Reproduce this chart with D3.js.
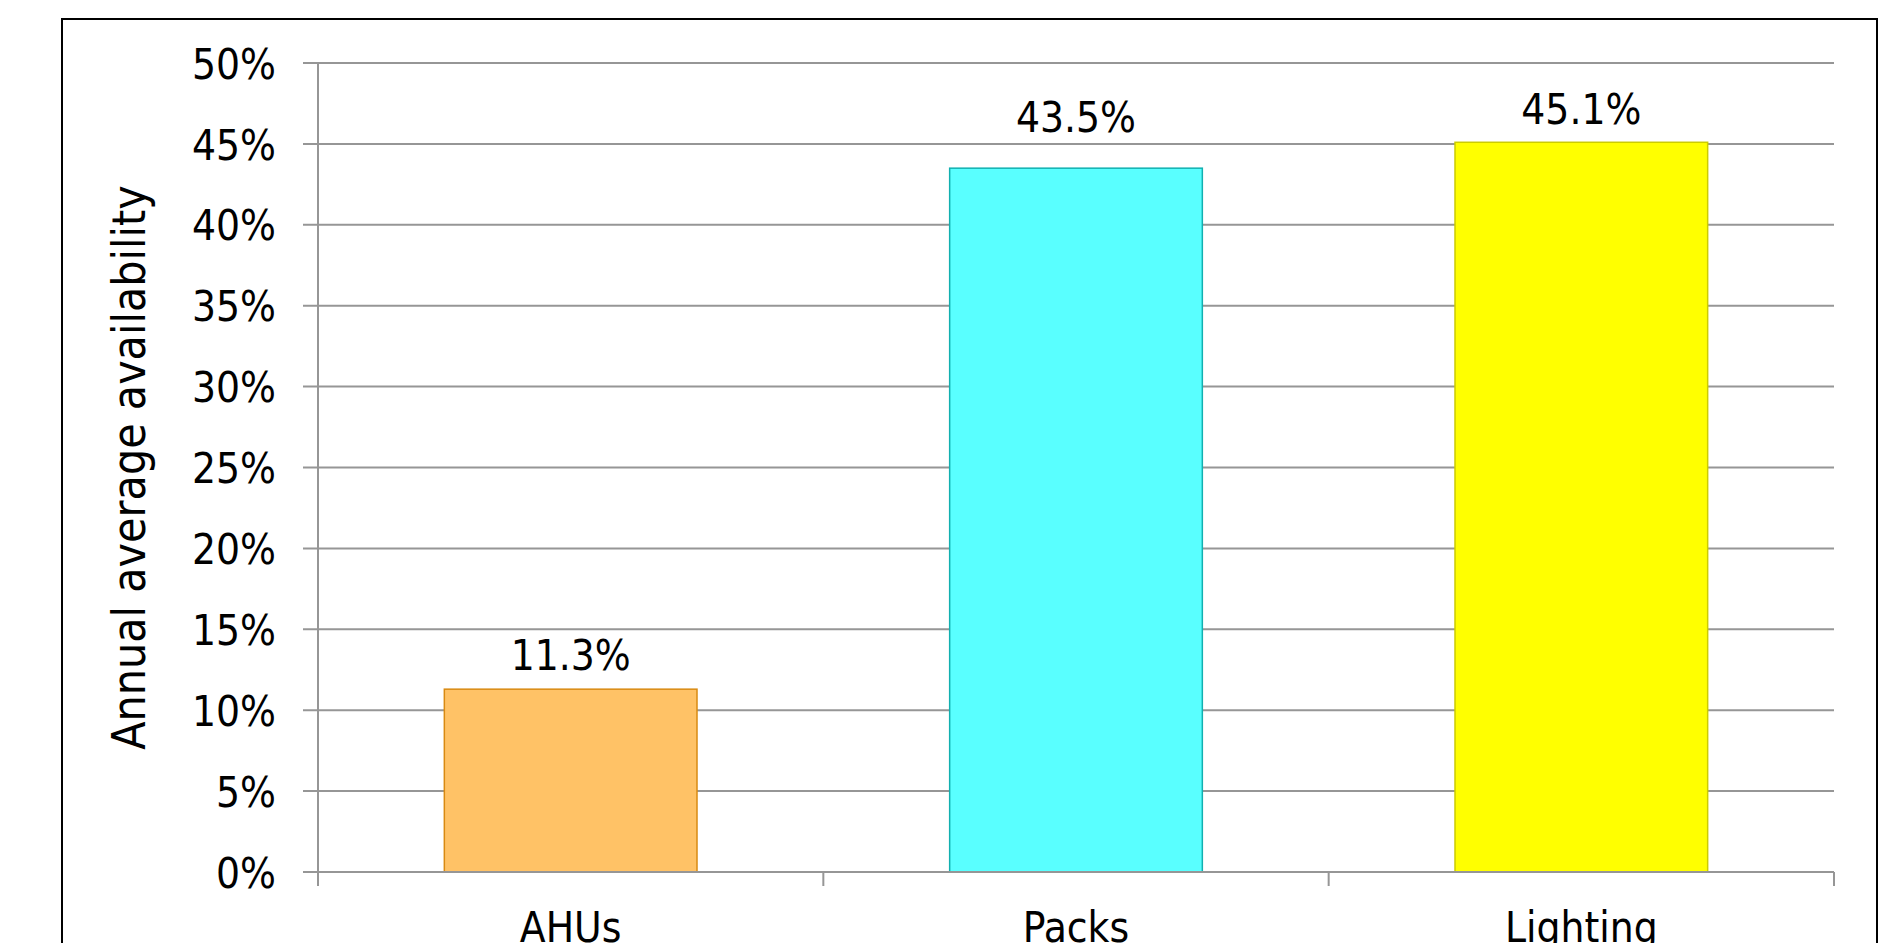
<!DOCTYPE html>
<html>
<head>
<meta charset="utf-8">
<script src="https://cdn.jsdelivr.net/npm/d3@7"></script>
<style>
  html, body { margin: 0; padding: 0; background: #fff; overflow: hidden; }
  svg text { font-family: "DejaVu Sans Condensed", "DejaVu Sans", sans-serif; font-stretch: condensed; fill: #000; }
</style>
</head>
<body>
<div id="chart"></div>
<script>
  var categories = ['AHUs', 'Packs', 'Lighting'];
  var values = [0.113, 0.435, 0.451];
  var valueLabels = ['11.3%', '43.5%', '45.1%'];
  var yTicks = [0, 0.05, 0.10, 0.15, 0.20, 0.25, 0.30, 0.35, 0.40, 0.45, 0.50];
  var fills = ['#ffc266', '#59ffff', '#ffff00'];
  var strokes = ['#d98a12', '#12b0b0', '#cccc00'];
  var yTitle = 'Annual average availability';

  var w = 1898, h = 943;
  var plotLeft = 318, plotRight = 1834, plotTop = 63, plotBottom = 872;

  var svg = d3.select('#chart').append('svg')
    .attr('width', w).attr('height', h);

  // outer frame (runs off the bottom edge)
  svg.append('rect')
    .attr('x', 62).attr('y', 19)
    .attr('width', 1877 - 62).attr('height', 1000)
    .attr('fill', 'none').attr('stroke', '#000').attr('stroke-width', 2);

  var x = d3.scaleBand().domain(categories)
    .range([plotLeft, plotRight]).paddingInner(0.5).paddingOuter(0.25);
  var y = d3.scaleLinear().domain([0, 0.5]).range([plotBottom, plotTop]);

  // gridlines with short outer tick
  svg.append('g').selectAll('line').data(yTicks).enter().append('line')
    .attr('x1', plotLeft - 15).attr('x2', plotRight)
    .attr('y1', function(d){ return y(d); }).attr('y2', function(d){ return y(d); })
    .attr('stroke', '#969696').attr('stroke-width', 2);

  // y axis labels
  var yAxis = d3.axisLeft(y).tickValues(yTicks)
    .tickFormat(d3.format('.0%')).tickSize(0).tickPadding(42);
  var ya = svg.append('g').attr('transform', 'translate(' + plotLeft + ',0)').call(yAxis);
  ya.select('.domain').remove();
  ya.selectAll('text')
    .attr('font-size', 42).attr('font-family', null).attr('fill', '#000').attr('dy', '0.36em');

  // axis lines
  svg.append('line')
    .attr('x1', plotLeft).attr('x2', plotLeft).attr('y1', plotTop).attr('y2', plotBottom + 14)
    .attr('stroke', '#969696').attr('stroke-width', 2);

  var step = x.step();
  var xTicks = d3.range(categories.length + 1).map(function(i){ return plotLeft + i * step; });
  svg.append('g').selectAll('line').data(xTicks).enter().append('line')
    .attr('x1', function(d){ return d; }).attr('x2', function(d){ return d; })
    .attr('y1', plotBottom).attr('y2', plotBottom + 14)
    .attr('stroke', '#969696').attr('stroke-width', 2);

  // bars
  svg.append('g').selectAll('rect').data(values).enter().append('rect')
    .attr('x', function(d, i){ return x(categories[i]); })
    .attr('y', function(d){ return y(d); })
    .attr('width', x.bandwidth())
    .attr('height', function(d){ return plotBottom - y(d); })
    .attr('fill', function(d, i){ return fills[i]; })
    .attr('stroke', function(d, i){ return strokes[i]; })
    .attr('stroke-width', 1.5);

  // baseline over the bars
  svg.append('line')
    .attr('x1', plotLeft - 15).attr('x2', plotRight).attr('y1', plotBottom).attr('y2', plotBottom)
    .attr('stroke', '#969696').attr('stroke-width', 2);

  // value labels (Packs label was nudged up above the 45% gridline)
  var lift = [19, 36, 18];
  svg.append('g').selectAll('text').data(values).enter().append('text')
    .attr('x', function(d, i){ return x(categories[i]) + x.bandwidth() / 2; })
    .attr('y', function(d, i){ return y(d) - lift[i]; })
    .attr('text-anchor', 'middle').attr('font-size', 42)
    .text(function(d, i){ return valueLabels[i]; });

  // category labels (cut by the bottom edge, as in the original)
  svg.append('g').selectAll('text').data(categories).enter().append('text')
    .attr('x', function(d){ return x(d) + x.bandwidth() / 2; })
    .attr('y', 942)
    .attr('text-anchor', 'middle').attr('font-size', 42)
    .text(function(d){ return d; });

  // y title
  svg.append('text')
    .attr('transform', 'translate(145,' + ((plotTop + plotBottom) / 2) + ') rotate(-90)')
    .attr('text-anchor', 'middle').attr('font-size', 46)
    .text(yTitle);
</script>
</body>
</html>
